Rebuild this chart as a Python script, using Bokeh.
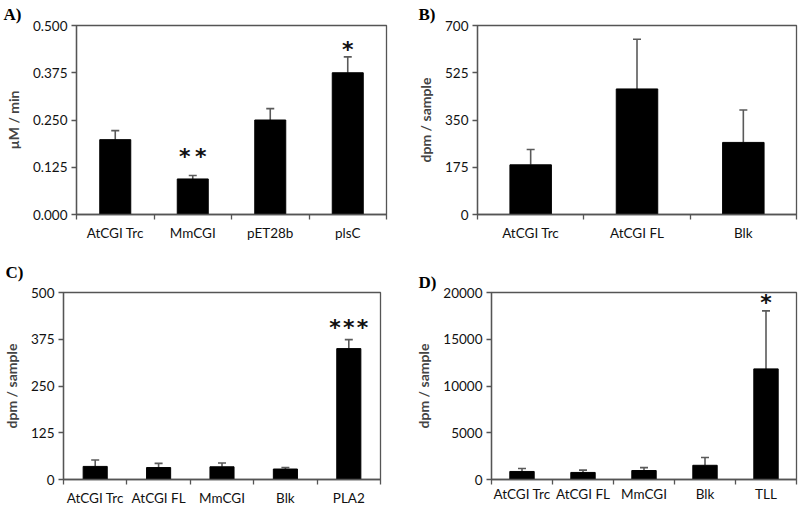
from bokeh.plotting import figure
from bokeh.layouts import column, row
from bokeh.models import Range1d, FixedTicker
from bokeh.core.properties import value
from bokeh.embed import file_html
from bokeh.resources import INLINE

# ---- data ----
cats_a = ["AtCGI Trc", "MmCGI", "pET28b", "plsC"]
vals_a = [0.198, 0.094, 0.250, 0.375]
errs_a = [0.024, 0.009, 0.030, 0.042]
ticks_a = [0.0, 0.125, 0.25, 0.375, 0.5]
labels_a = ["0.000", "0.125", "0.250", "0.375", "0.500"]

cats_b = ["AtCGI Trc", "AtCGI FL", "Blk"]
vals_b = [184, 465, 267]
errs_b = [57, 184, 120]
ticks_b = [0, 175, 350, 525, 700]

cats_c = ["AtCGI Trc", "AtCGI FL", "MmCGI", "Blk", "PLA2"]
vals_c = [35, 32, 34, 28, 350]
errs_c = [17, 11, 10, 4, 24]
ticks_c = [0, 125, 250, 375, 500]

cats_d = ["AtCGI Trc", "AtCGI FL", "MmCGI", "Blk", "TLL"]
vals_d = [860, 755, 960, 1520, 11830]
errs_d = [310, 245, 315, 830, 6200]
ticks_d = [0, 5000, 10000, 15000, 20000]

FONT = "Lato"
AXC = "#555555"
ERRC = "#5a5a5a"


def panel(cats, vals, errs, ticks, tick_labels, ylabel, w, h, borders, bar_w,
          tag, tag_offset, tag_standoff, x_standoff=5, stars=None):
    n = len(cats)
    left, right, top, bottom = borders
    p = figure(width=w, height=h, output_backend="svg", toolbar_location=None,
               x_range=Range1d(0, n), y_range=Range1d(ticks[0], ticks[-1]),
               min_border_left=left, min_border_right=right,
               min_border_top=top, min_border_bottom=bottom)
    p.grid.visible = False
    p.outline_line_color = AXC
    p.outline_line_width = 1.3
    centers = [i + 0.5 for i in range(n)]
    bounds = list(range(n + 1))

    # panel tag as a title
    p.title.text = tag
    p.title.align = "left"
    p.title.offset = tag_offset
    p.title.standoff = tag_standoff
    p.title.text_font = "Liberation Serif"
    p.title.text_font_style = "bold"
    p.title.text_font_size = "17px"
    p.title.text_color = "black"

    # x axis: labels at centers, ticks at category boundaries
    p.xaxis.ticker = FixedTicker(ticks=centers, minor_ticks=bounds)
    p.xaxis.major_label_overrides = {c: lab for c, lab in zip(centers, cats)}
    p.xaxis.major_tick_out = 0
    p.xaxis.major_tick_in = 0
    p.xaxis.minor_tick_out = 5
    p.xaxis.minor_tick_in = 0
    p.xaxis.minor_tick_line_color = AXC
    p.xaxis.minor_tick_line_width = 1.3
    p.xaxis.major_label_standoff = x_standoff

    p.yaxis.ticker = FixedTicker(ticks=ticks)
    p.yaxis.major_label_overrides = {t: lab for t, lab in zip(ticks, tick_labels)}
    p.yaxis.major_tick_out = 5
    p.yaxis.major_tick_in = 0
    p.yaxis.minor_tick_line_color = None
    p.yaxis.major_tick_line_color = AXC
    p.yaxis.major_tick_line_width = 1.3
    p.yaxis.axis_label = ylabel
    p.yaxis.axis_label_text_font = FONT
    p.yaxis.axis_label_text_font_style = "bold"
    p.yaxis.axis_label_text_font_size = "14px"
    p.yaxis.axis_label_standoff = 8
    p.yaxis.major_label_standoff = 4

    for ax in (p.xaxis, p.yaxis):
        ax.axis_line_color = AXC
        ax.axis_line_width = 1.3
        ax.major_label_text_font = FONT
        ax.major_label_text_font_size = "13.5px"
        ax.major_label_text_color = "#111111"

    tops = [v + e for v, e in zip(vals, errs)]
    p.segment(x0=centers, y0=vals, x1=centers, y1=tops, line_color=ERRC, line_width=1.6)
    p.scatter(x=centers, y=tops, marker="dash", size=8, line_color=ERRC, line_width=1.6)
    p.vbar(x=centers, top=vals, bottom=0, width=bar_w, fill_color="black", line_color="black")

    if stars:
        for (ci, yv, s) in stars:
            p.text(x=[centers[ci]], y=[yv], text=[s], text_align="center",
                   text_baseline="middle", text_font=value("DejaVu Sans"),
                   text_font_style="bold", text_font_size="22px", text_color="#111111")
    return p


pa = panel(cats_a, vals_a, errs_a, ticks_a, labels_a, "µM / min", 400, 250,
           (76, 14, 24, 33), 0.4, "A)", -73, 3,
           stars=[(1, 0.153, "*\u2009*"), (3, 0.436, "*")])
pb = panel(cats_b, vals_b, errs_b, ticks_b, [str(t) for t in ticks_b], "dpm / sample",
           399, 250, (77, 3, 24, 36), 0.39, "B)", -59, 4)
pc = panel(cats_c, vals_c, errs_c, ticks_c, [str(t) for t in ticks_c], "dpm / sample",
           400, 258, (61, 20, 42, 29), 0.38, "C)", -58, 21,
           stars=[(4, 406, "*\u200a*\u200a*")])
pd_ = panel(cats_d, vals_d, errs_d, ticks_d, [str(t) for t in ticks_d], "dpm / sample",
            399, 258, (91, 3, 42, 23), 0.4, "D)", -73, 2, x_standoff=1,
            stars=[(4, 18940, "*")])

layout = column(row(pa, pb), row(pc, pd_))
open("out.html", "w").write(file_html(layout, INLINE))
